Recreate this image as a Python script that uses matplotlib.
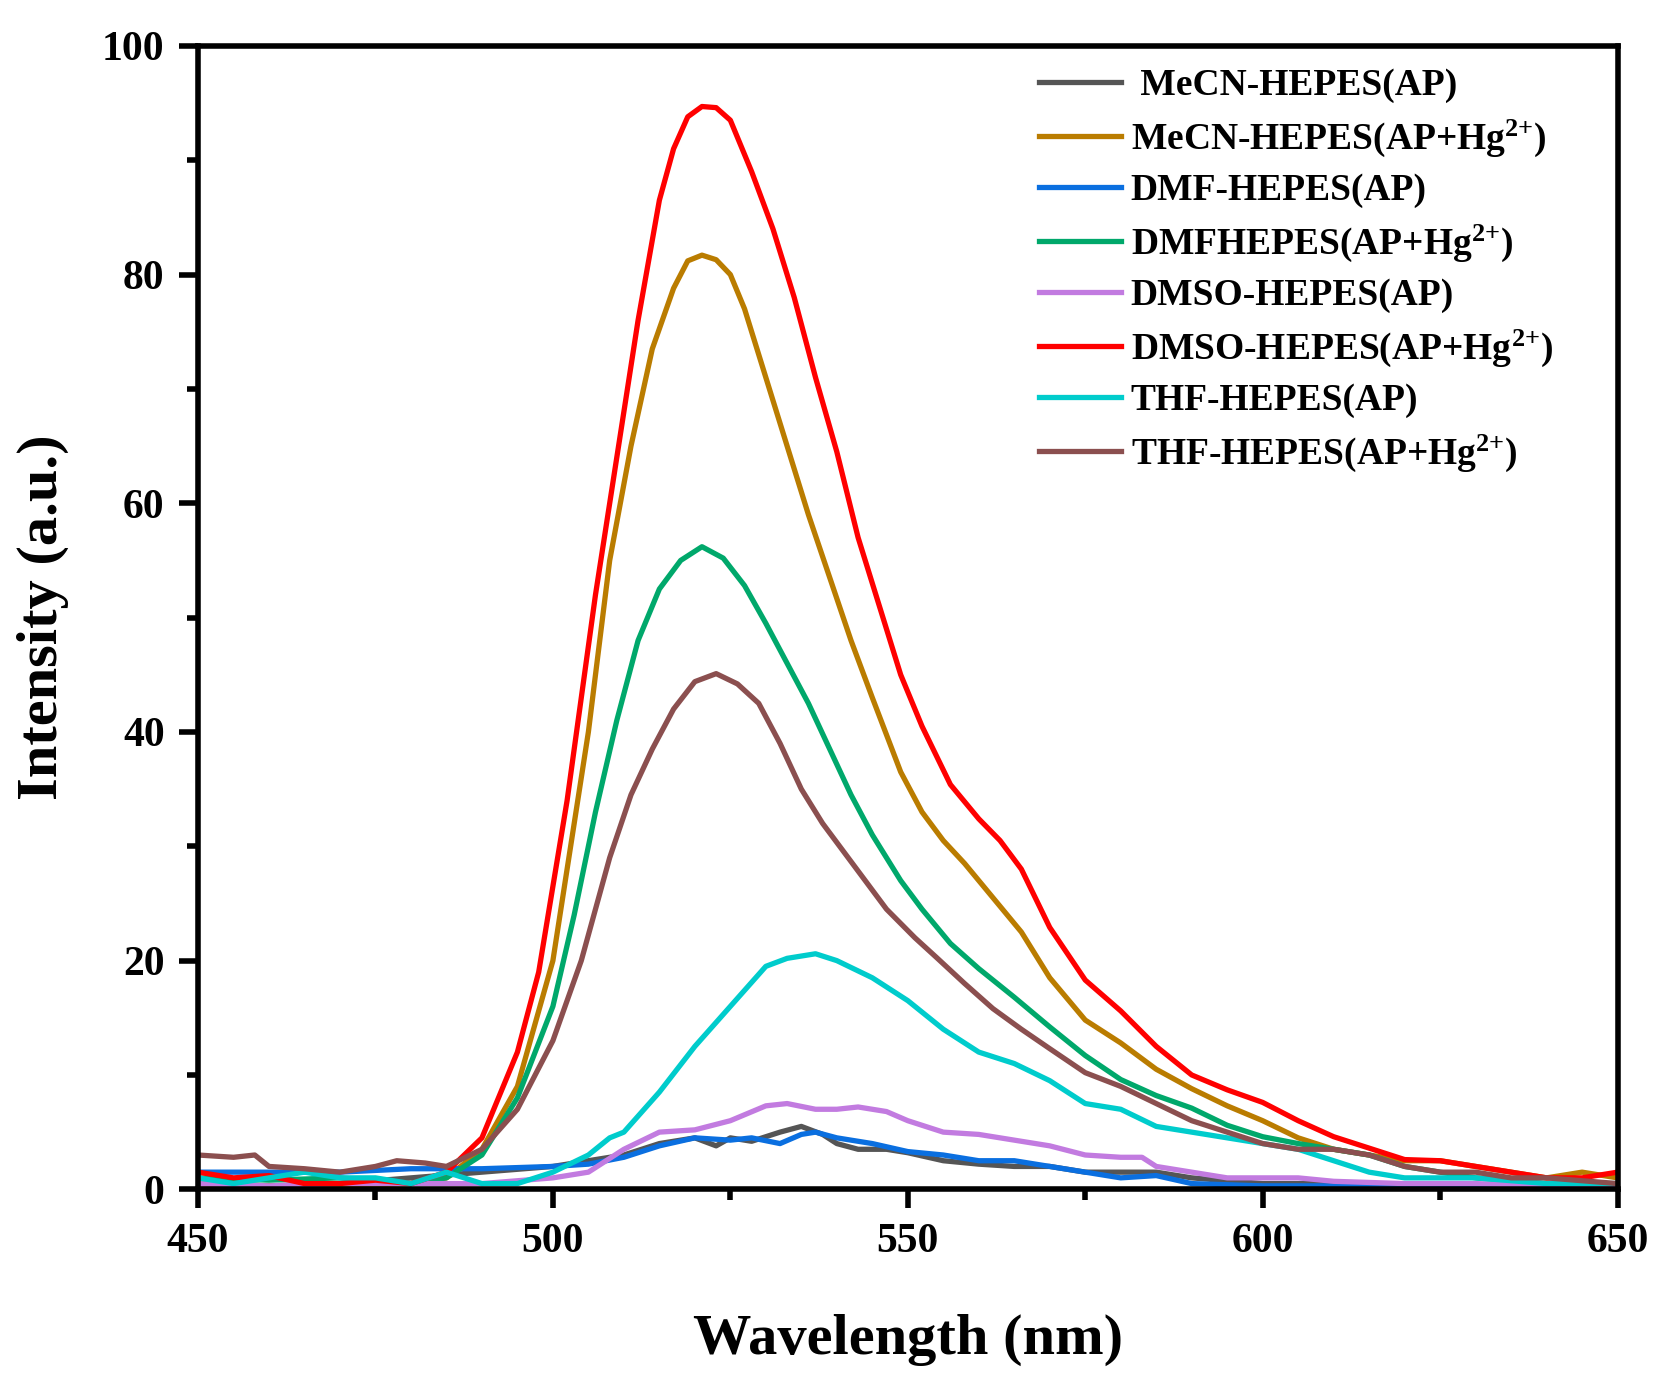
import matplotlib.pyplot as plt
from matplotlib.ticker import MultipleLocator

plt.rcParams['font.family'] = ['Liberation Serif', 'DejaVu Serif']
plt.rcParams['font.weight'] = 'bold'
plt.rcParams['mathtext.fontset'] = 'custom'
plt.rcParams['mathtext.rm'] = 'Liberation Serif:bold'
plt.rcParams['mathtext.it'] = 'Liberation Serif:bold'
plt.rcParams['mathtext.bf'] = 'Liberation Serif:bold'

# --- spectra (wavelength nm, intensity a.u.) ---
mecn_x = [450, 460, 470, 480, 490, 500, 505, 510, 515, 520, 523, 525, 528, 532, 535, 538, 540, 543, 547,
          550, 555, 560, 565, 570, 575, 580, 585, 590, 600, 610, 620, 650]
mecn_ap = [0.5, 0.3, 0.5, 1.0, 1.5, 2.0, 2.5, 3.0, 4.0, 4.5, 3.8, 4.5, 4.2, 5.0, 5.5, 4.8, 4.0, 3.5, 3.5,
           3.2, 2.5, 2.2, 2.0, 2.0, 1.5, 1.5, 1.5, 1.0, 0.5, 0.5, 0.3, 0.2]

mecn_hg_x = [450, 460, 470, 480, 485, 490, 495, 500, 505, 508, 511, 514, 517, 519, 521, 523, 525, 527,
             530, 533, 536, 539, 542, 545, 549, 552, 555, 558, 562, 566, 570, 575, 580, 585, 590, 595,
             600, 605, 610, 615, 620, 625, 630, 635, 640, 645, 650]
mecn_hg = [0.5, 0.3, 0.3, 0.5, 1.0, 3.5, 9.0, 20.0, 40.0, 55.0, 65.0, 73.5, 78.8, 81.2, 81.7, 81.3, 80.0,
           77.0, 71.0, 65.0, 59.0, 53.5, 48.0, 43.0, 36.5, 33.0, 30.5, 28.5, 25.5, 22.5, 18.5, 14.8,
           12.8, 10.5, 8.8, 7.3, 6.0, 4.5, 3.5, 3.0, 2.5, 2.5, 2.0, 1.5, 1.0, 1.5, 1.0]

dmf_x = [450, 460, 470, 480, 490, 500, 505, 510, 515, 520, 525, 528, 532, 535, 537, 540, 545, 550, 555,
         560, 565, 570, 575, 580, 585, 590, 600, 610, 620, 650]
dmf_ap = [1.5, 1.5, 1.5, 1.8, 1.8, 2.0, 2.2, 2.8, 3.8, 4.5, 4.3, 4.5, 4.0, 4.8, 5.0, 4.5, 4.0, 3.3, 3.0,
          2.5, 2.5, 2.0, 1.5, 1.0, 1.2, 0.5, 0.3, 0.3, 0.3, 0.2]

dmf_hg_x = [450, 460, 470, 480, 485, 490, 495, 500, 503, 506, 509, 512, 515, 518, 521, 524, 527, 530,
            533, 536, 539, 542, 545, 549, 552, 556, 560, 565, 570, 575, 580, 585, 590, 595, 600, 605,
            610, 615, 620, 625, 630, 640, 650]
dmf_hg = [1.0, 0.8, 1.0, 0.5, 1.0, 3.0, 8.0, 16.0, 24.0, 33.0, 41.0, 48.0, 52.5, 55.0, 56.2, 55.2, 52.8,
          49.5, 46.0, 42.5, 38.5, 34.5, 31.0, 27.0, 24.5, 21.5, 19.3, 16.8, 14.2, 11.7, 9.6, 8.2, 7.1,
          5.6, 4.6, 4.0, 3.5, 3.0, 2.0, 1.5, 1.0, 0.5, 0.5]

dmso_x = [450, 460, 470, 480, 490, 500, 505, 510, 515, 520, 525, 530, 533, 537, 540, 543, 547, 550, 555,
          560, 565, 570, 575, 580, 583, 585, 590, 595, 600, 605, 610, 620, 630, 640, 650]
dmso_ap = [0.5, 0.3, 0.5, 0.5, 0.5, 1.0, 1.5, 3.5, 5.0, 5.2, 6.0, 7.3, 7.5, 7.0, 7.0, 7.2, 6.8, 6.0, 5.0,
           4.8, 4.3, 3.8, 3.0, 2.8, 2.8, 2.0, 1.5, 1.0, 1.0, 1.0, 0.7, 0.5, 0.5, 0.3, 0.3]

dmso_hg_x = [450, 455, 460, 465, 470, 475, 480, 485, 490, 495, 498, 502, 506, 509, 512, 515, 517, 519,
             521, 523, 525, 528, 531, 534, 537, 540, 543, 546, 549, 552, 556, 560, 563, 566, 570, 575,
             580, 585, 590, 595, 600, 605, 610, 615, 620, 625, 630, 635, 640, 645, 650]
dmso_hg = [1.5, 1.0, 1.2, 0.5, 0.5, 0.8, 0.5, 1.5, 4.5, 12.0, 19.0, 34.0, 52.0, 64.0, 76.0, 86.5, 91.0,
           93.8, 94.7, 94.6, 93.5, 89.0, 84.0, 78.0, 71.0, 64.5, 57.0, 51.0, 45.0, 40.5, 35.4, 32.4,
           30.5, 28.0, 22.9, 18.3, 15.6, 12.5, 10.0, 8.7, 7.6, 6.0, 4.6, 3.6, 2.6, 2.5, 2.0, 1.5, 1.0,
           1.0, 1.5]

thf_x = [450, 455, 460, 465, 470, 475, 480, 485, 490, 495, 500, 505, 508, 510, 515, 520, 525, 530, 533,
         537, 540, 545, 550, 555, 560, 565, 570, 575, 580, 585, 590, 595, 600, 605, 610, 615, 620, 630,
         640, 650]
thf_ap = [1.0, 0.5, 1.0, 1.5, 1.0, 1.0, 0.5, 1.5, 0.5, 0.5, 1.5, 3.0, 4.5, 5.0, 8.5, 12.5, 16.0, 19.5,
          20.2, 20.6, 20.0, 18.5, 16.5, 14.0, 12.0, 11.0, 9.5, 7.5, 7.0, 5.5, 5.0, 4.5, 4.0, 3.5, 2.5,
          1.5, 1.0, 1.0, 0.5, 0.5]

thf_hg_x = [450, 455, 458, 460, 465, 470, 475, 478, 482, 485, 490, 495, 500, 504, 508, 511, 514, 517,
            520, 523, 526, 529, 532, 535, 538, 541, 544, 547, 551, 554, 558, 562, 566, 570, 575, 580,
            585, 590, 595, 600, 605, 610, 615, 620, 625, 630, 635, 640, 650]
thf_hg = [3.0, 2.8, 3.0, 2.0, 1.8, 1.5, 2.0, 2.5, 2.3, 2.0, 3.5, 7.0, 13.0, 20.0, 29.0, 34.5, 38.5, 42.0,
          44.4, 45.1, 44.2, 42.5, 39.0, 35.0, 32.0, 29.5, 27.0, 24.5, 22.0, 20.3, 18.0, 15.8, 14.0, 12.3,
          10.2, 9.0, 7.5, 6.0, 5.0, 4.0, 3.5, 3.5, 3.0, 2.0, 1.5, 1.5, 1.0, 1.0, 0.5]

labels = [' MeCN-HEPES(AP)', r'MeCN-HEPES(AP+Hg$^{2{+}}$)', 'DMF-HEPES(AP)', r'DMFHEPES(AP+Hg$^{2{+}}$)',
          'DMSO-HEPES(AP)', r'DMSO-HEPES(AP+Hg$^{2{+}}$)', 'THF-HEPES(AP)', r'THF-HEPES(AP+Hg$^{2{+}}$)']
colors = ['#555555', '#BA7C00', '#0A6FE0', '#00A86B', '#C27BE0', '#FF0000', '#00CCCC', '#8B4F4F']

series = [(mecn_x, mecn_ap), (mecn_hg_x, mecn_hg), (dmf_x, dmf_ap), (dmf_hg_x, dmf_hg),
          (dmso_x, dmso_ap), (dmso_hg_x, dmso_hg), (thf_x, thf_ap), (thf_hg_x, thf_hg)]

fig = plt.figure(figsize=(16.78, 13.91), dpi=100)
ax = fig.add_axes([0.118, 0.145, 0.846, 0.822])

for (x, y), lab, c in zip(series, labels, colors):
    ax.plot(x, y, color=c, lw=3.8, label=lab)

ax.set_xlim(450, 650)
ax.set_ylim(0, 100)
ax.xaxis.set_major_locator(MultipleLocator(50))
ax.xaxis.set_minor_locator(MultipleLocator(25))
ax.yaxis.set_major_locator(MultipleLocator(20))
ax.yaxis.set_minor_locator(MultipleLocator(10))
ax.tick_params(which='major', length=14, width=4, labelsize=30, pad=10)
ax.tick_params(which='minor', length=8, width=4)
for s in ax.spines.values():
    s.set_linewidth(4)

ax.set_xlabel('Wavelength (nm)', fontsize=42, fontweight='bold', labelpad=38)
ax.set_ylabel('Intensity (a.u.)', fontsize=42, fontweight='bold', labelpad=24)

leg = ax.legend(loc='upper right', bbox_to_anchor=(0.978, 1.01), frameon=False, fontsize=27,
                handlelength=2.2, handletextpad=0.25, labelspacing=0.38)
for t in leg.get_texts():
    t.set_fontweight('bold')

fig.savefig('out.png', dpi=100)
